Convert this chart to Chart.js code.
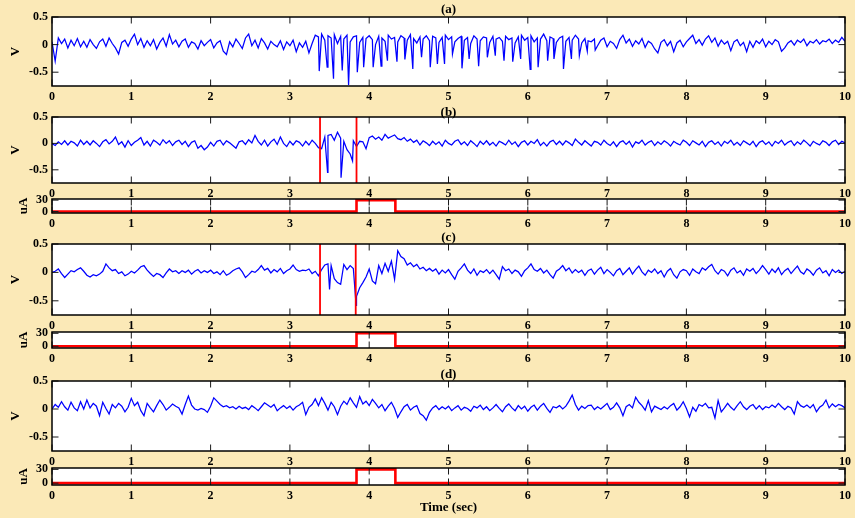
<!DOCTYPE html>
<html>
<head>
<meta charset="utf-8">
<title>Evoked activity</title>
<script src="https://cdn.jsdelivr.net/npm/chart.js@4.4.1/dist/chart.umd.min.js"></script>
<style>
  html, body { margin: 0; padding: 0; background: #fbe9b7; }
  #wrap { position: relative; width: 855px; height: 518px; overflow: hidden; background: #fbe9b7; }
  #wrap canvas { position: absolute; left: 0; }
</style>
</head>
<body>
<div id="wrap"></div>
<script>
// ---- recorded data -------------------------------------------------------
const SAMPLE_STEP = 0.04; // seconds between stored samples

const timeTicks = [0, 1, 2, 3, 4, 5, 6, 7, 8, 9, 10];
const timeTickLabels = ['0', '1', '2', '3', '4', '5', '6', '7', '8', '9', '10'];
const voltTicks = [-0.5, 0, 0.5];
const voltTickLabels = ['-0.5', '0', '0.5'];
const currentTicks = [0, 30];
const currentTickLabels = ['0', '30'];

// (a) spontaneous trace, sampled every SAMPLE_STEP
const traceA = [
  .05,-.30,.12,.02,.10,-.06,.08,-.02,.11,-.04,
  .06,-.05,.09,.00,-.07,.05,.10,-.03,.12,.02,
  -.06,-.17,.04,.08,-.03,.10,.19,.00,.11,-.05,
  .07,-.02,.09,-.08,.04,.12,-.03,.18,.01,.08,
  -.04,.06,.10,-.05,.05,.02,-.08,.07,-.02,.04,
  .09,-.06,.03,.07,-.12,-.18,.05,-.04,.10,.02,
  -.07,.12,.19,-.02,.08,-.06,.11,.03,-.08,.06,
  .00,-.04,.07,-.09,.05,-.02,.08,-.13,.03,-.05,
  .06,-.15,.02,.17,.14,.19,.08,.16,.12,.18,
  .02,.15,.10,.17,.05,.14,.16,.04,.13,.11,
  .16,.09,.00,.15,.12,.06,.17,.10,.13,.05,
  .16,.12,.08,.18,.11,.03,.14,.10,.16,.07,
  .15,.12,.04,.13,.17,.09,.14,.05,.11,.15,
  .08,.13,.02,.16,.10,.07,.14,.12,.04,.15,
  .10,.13,.06,.15,.09,.12,.03,.14,.17,.08,
  .13,.16,.05,.12,.10,.19,.07,.14,.11,.04,
  .12,.15,.06,.13,.08,.17,.10,.03,.11,.07,
  .05,.10,-.02,.08,.12,-.04,.06,.02,-.07,.09,
  .17,.03,.10,-.03,.07,.01,.11,-.05,.06,.02,
  -.08,-.15,.04,.09,-.02,.06,-.13,.03,.08,-.04,
  .05,.11,.17,.02,.09,-.01,.10,.16,.04,.12,
  -.03,.08,.01,.06,-.11,.05,.09,-.02,.04,-.13,
  .06,-.05,.07,.02,.10,-.04,.06,.00,.09,.05,
  -.12,-.06,.03,.07,-.01,.08,.04,.10,-.02,.06,
  .03,.09,.01,.07,.05,.10,.02,.08,.04,.13,
  .06
];
// (a) sharp negative spikes of the paroxysmal burst
const spikeTimesA = [3.37,3.47,3.55,3.66,3.74,3.85,3.93,4.05,4.15,4.23,4.35,4.45,4.55,4.66,4.77,4.86,4.95,5.05,
                     5.17,5.26,5.38,5.49,5.59,5.70,5.81,5.91,6.03,6.13,6.25,6.33,6.45,6.55,6.65,6.75,6.85];
const spikeValuesA = [-.48,-.41,-.62,-.47,-.73,-.50,-.41,-.41,-.39,-.29,-.31,-.27,-.44,-.23,-.41,-.35,-.35,-.17,
                      -.43,-.26,-.39,-.23,-.20,-.29,-.31,-.26,-.45,-.41,-.29,-.26,-.44,-.26,-.20,-.12,-.10];

// (b) trace with detected onset, stimulation cuts the burst short
const traceB = [
  .00,-.04,.03,-.02,.05,-.03,.04,.01,-.05,.06,
  -.02,.04,-.03,.05,.00,-.06,.03,.07,-.01,.04,
  .12,-.02,.03,-.07,.05,-.04,.02,.06,.11,-.03,
  .04,-.05,.06,.02,-.03,.07,.00,.05,-.04,.03,
  .06,-.02,.04,-.06,.02,.05,-.09,-.04,-.12,-.07,
  .02,-.05,.04,.06,-.03,.05,.01,-.04,-.09,.03,
  .05,-.02,.07,.01,.15,.04,-.03,.06,-.05,.03,
  .08,-.02,.12,.00,-.06,.04,-.03,.05,.02,-.05,
  .04,-.03,.06,.00,-.08,-.10,.12,.15,.17,.06,
  .21,.10,.04,-.12,-.20,.05,-.06,.04,.03,-.10,
  .11,.14,.08,.12,.06,.17,.10,.13,.16,.09,
  .07,.11,.04,.08,.02,.06,-.03,.05,.01,-.04,
  .04,-.02,.03,-.05,.06,.00,-.03,.04,.07,-.02,
  .03,-.04,.05,.00,-.06,.04,-.02,.05,-.03,.02,
  -.05,.04,.01,-.03,.06,-.02,.03,-.06,.02,.05,
  -.03,.04,.00,.07,-.04,.02,-.05,.03,.06,-.02,
  .04,-.03,.05,.01,-.04,.08,.02,-.03,.05,.00,
  -.05,.04,.02,-.03,.06,.00,-.04,.03,-.06,.02,
  .05,-.02,.04,-.07,.03,.00,.06,-.03,.02,.05,
  -.04,.03,-.02,.05,.01,-.05,.04,.00,-.03,.06,
  .02,-.04,.05,.01,-.03,.04,-.06,.02,.05,-.02,
  .03,-.05,.04,.00,.06,-.03,.02,-.04,.05,.01,
  -.03,.04,-.06,.02,.05,-.02,.03,-.05,.04,.00,
  .06,-.03,.02,.05,-.04,.03,-.02,.06,.01,-.05,
  .04,.00,-.03,.05,.02,-.04,.03,.06,-.02,.04,
  .01
];
const spikeTimesB = [3.475, 3.645, 3.79];
const spikeValuesB = [-.55, -.65, -.33];
const markTimesB = [3.38, 3.84];

// (c) trace with detected onset and rebound after stimulation
const traceC = [
  .00,.02,.06,-.02,-.09,-.03,.03,.01,.05,.08,
  .02,-.05,-.08,-.04,-.06,-.03,.02,.15,.08,.03,
  .05,-.02,.01,-.06,-.03,.02,-.01,.04,.10,.12,
  .04,-.02,-.07,-.02,-.04,-.09,-.01,.06,.01,.03,
  -.02,.03,.00,.04,-.03,.02,.05,-.01,.03,.00,
  .04,-.02,.01,-.04,.03,-.05,-.02,.03,.06,.08,
  .01,-.09,-.04,.02,.00,.05,.12,.04,.07,-.01,
  .05,.01,.07,-.02,.03,.06,.13,.05,.02,.04,
  .03,.06,-.02,.02,-.06,.05,.13,.15,.12,-.11,
  -.18,-.21,.14,.05,.12,.07,-.42,-.27,-.18,-.08,
  .06,-.15,-.20,.12,-.02,.16,.02,.20,-.12,.38,
  .28,.24,.13,.17,.10,.14,.06,.09,.03,.07,
  .02,.06,-.03,.04,-.01,.05,-.04,-.12,.02,.08,
  .15,.04,-.02,.06,-.05,.03,.00,.05,-.02,.04,
  -.04,-.12,.10,.03,.06,-.02,.04,.01,-.07,.03,
  .08,.15,.05,.02,.07,-.01,.04,-.04,-.10,.02,
  .06,.12,.03,.08,-.01,.05,.00,.04,-.05,.03,
  .06,-.03,.04,.09,-.02,.05,.00,-.06,.03,.07,
  -.04,.02,.08,-.03,.05,.11,.01,-.05,.04,.00,
  .06,-.02,.03,-.08,.02,.07,-.04,-.10,.01,.05,
  .03,-.05,.06,.01,-.02,.08,.04,.10,.14,.03,
  -.03,.05,.02,-.06,.04,.08,-.01,.03,-.05,.06,
  .02,.07,-.02,.04,.12,.05,-.03,.06,.00,.08,
  -.04,.03,.07,-.02,.05,.11,.01,-.03,.06,.02,
  -.05,.04,.08,-.01,.03,-.06,.05,.00,.04,-.02,
  .02
];
const spikeTimesC = [3.50, 3.835];
const spikeValuesC = [-.30, -.58];
const markTimesC = [3.38, 3.83];

// (d) control trace with stimulation but no burst
const traceD = [
  .00,.08,.03,.13,.04,-.02,.12,.02,-.03,.13,
  .00,.16,.02,.10,.05,-.12,.12,.01,-.09,.08,
  .02,.10,.05,-.05,.03,.19,.06,.12,-.03,-.12,
  .10,.02,-.05,.06,.16,.08,-.02,.03,.09,.05,
  .02,-.09,.08,.23,.07,.00,-.02,.01,-.01,-.06,
  .05,.20,.14,.08,.04,.06,.02,.04,.00,.05,
  .01,.03,-.01,.06,.02,-.03,.04,.11,.07,.03,
  .08,-.03,.02,.06,.01,.05,-.02,.04,.07,.12,
  -.10,.03,.08,.18,.06,.20,.10,-.02,.12,.04,
  -.10,.05,.14,.08,.20,.11,.03,.22,.09,.14,
  .06,.17,.10,.02,.08,-.03,.05,.12,.01,-.15,
  -.05,.04,.08,-.02,.03,.06,-.08,-.12,-.20,-.06,
  .02,.06,-.01,.04,.00,.05,-.03,.02,.06,-.02,
  .03,.01,-.04,.05,.02,.07,-.01,.04,-.03,.02,
  .08,.01,-.05,.04,.09,.02,-.03,.06,.00,.05,
  -.04,.03,.07,-.02,.05,.10,.01,-.06,.04,.02,
  .06,.00,.05,.14,.25,.08,-.02,.05,.01,.06,
  .07,-.01,.04,.00,.05,.10,-.01,.03,.11,.02,
  -.12,.04,.08,.02,.21,.12,.06,-.02,.15,-.05,
  .05,.02,-.01,.04,.00,.06,.10,-.02,.04,.13,
  .01,-.14,.03,-.04,.08,.05,.10,.02,.03,-.16,
  .15,-.05,.02,.10,.03,-.02,.06,.13,.04,-.01,
  .05,.08,.00,.06,-.01,.04,.02,.07,.03,.10,
  .04,-.01,.05,.02,-.09,.13,.06,.03,.07,.02,
  .08,-.05,.03,.07,.16,.02,.09,.04,.08,.06,
  .02
];

// stimulation current pulse (uA)
const stimTimes = [0, 3.84, 3.84, 4.33, 4.33, 10];
const stimCurrent = [0, 0, 30, 30, 0, 0];

// ---- drawing -------------------------------------------------------------
const FONT = '"Liberation Serif", "Times New Roman", Times, serif';
const VOLT_MIN = -0.75, VOLT_MAX = 0.5;
const AMP_MIN = -4, AMP_MAX = 33;
const TICK_LEN = 6.5;

function toSeries(samples, extraTimes, extraValues) {
  const pts = samples.map((v, i) => ({ x: i * SAMPLE_STEP, y: v }));
  (extraTimes || []).forEach((t, k) => pts.push({ x: t, y: extraValues[k] }));
  pts.sort((a, b) => a.x - b.x);
  return pts;
}

// white plot box, inward ticks on all four sides, frame and panel label
const panelDecor = {
  id: 'panelDecor',
  beforeDatasetsDraw(chart) {
    const { ctx, chartArea: a } = chart;
    ctx.save();
    ctx.fillStyle = '#ffffff';
    ctx.fillRect(a.left, a.top, a.right - a.left, a.bottom - a.top);
    ctx.restore();
  },
  afterDatasetsDraw(chart, args, opts) {
    const { ctx, chartArea: a, scales: { x, y } } = chart;
    ctx.save();
    ctx.strokeStyle = '#1a1a1a';
    ctx.lineWidth = 1;
    ctx.beginPath();
    x.ticks.forEach(t => {
      const px = x.getPixelForValue(t.value);
      ctx.moveTo(px, a.bottom); ctx.lineTo(px, a.bottom - TICK_LEN);
      ctx.moveTo(px, a.top); ctx.lineTo(px, a.top + TICK_LEN);
    });
    y.ticks.forEach(t => {
      const py = y.getPixelForValue(t.value);
      ctx.moveTo(a.left, py); ctx.lineTo(a.left + TICK_LEN, py);
      ctx.moveTo(a.right, py); ctx.lineTo(a.right - TICK_LEN, py);
    });
    ctx.stroke();
    ctx.strokeStyle = '#000';
    ctx.lineWidth = 1.5;
    ctx.strokeRect(a.left, a.top, a.right - a.left, a.bottom - a.top);
    if (opts.title) {
      ctx.fillStyle = '#000';
      ctx.font = 'bold 13px ' + FONT;
      ctx.textAlign = 'center';
      ctx.textBaseline = 'middle';
      ctx.fillText(opts.title, (a.left + a.right) / 2, a.top - opts.titleGap);
    }
    ctx.restore();
  }
};

function timeAxis(height, withTitle) {
  return {
    type: 'linear', min: 0, max: 10,
    afterBuildTicks: s => { s.ticks = timeTicks.map(v => ({ value: v })); },
    afterFit: s => { s.height = height; },
    ticks: {
      autoSkip: false, maxRotation: 0, minRotation: 0, padding: 4, color: '#000',
      font: { family: FONT, size: 12, weight: 'bold' },
      callback: (v, i) => timeTickLabels[i]
    },
    grid: { display: false, drawTicks: false },
    border: { display: false },
    title: {
      display: withTitle, text: 'Time (sec)', color: '#000',
      font: { family: FONT, size: 13, weight: 'bold' },
      padding: { top: 0, bottom: 3 }
    }
  };
}

function valueAxis(min, max, ticks, labels, title, titlePad) {
  return {
    type: 'linear', min, max,
    afterBuildTicks: s => { s.ticks = ticks.map(v => ({ value: v })); },
    afterFit: s => { s.width = 52; },
    ticks: {
      autoSkip: false, padding: 4, color: '#000',
      font: { family: FONT, size: 12, weight: 'bold' },
      callback: (v, i) => labels[i]
    },
    grid: { display: false, drawTicks: false },
    border: { display: false },
    title: {
      display: true, text: title, color: '#000',
      font: { family: FONT, size: 13, weight: 'bold' },
      padding: { top: titlePad, bottom: 0 }
    }
  };
}

const wrap = document.getElementById('wrap');

function makePanel(p) {
  const canvasTop = p.top - 17;
  const xAxisH = p.last ? 518 - p.bottom : 22;
  const height = p.bottom + xAxisH - canvasTop;
  const canvas = document.createElement('canvas');
  canvas.width = 855; canvas.height = height;
  canvas.style.top = canvasTop + 'px';
  canvas.style.width = '855px'; canvas.style.height = height + 'px';
  wrap.appendChild(canvas);

  new Chart(canvas, {
    type: 'line',
    data: { datasets: p.datasets },
    options: {
      responsive: false, animation: false, devicePixelRatio: 1,
      layout: { padding: { top: 17, right: 6, left: 0, bottom: 0 } },
      elements: { point: { radius: 0 }, line: { tension: 0 } },
      plugins: {
        legend: { display: false }, tooltip: { enabled: false },
        panelDecor: { title: p.title, titleGap: p.titleGap }
      },
      scales: {
        x: timeAxis(xAxisH, !!p.last),
        y: p.current
          ? valueAxis(AMP_MIN, AMP_MAX, currentTicks, currentTickLabels, 'uA', 16)
          : valueAxis(VOLT_MIN, VOLT_MAX, voltTicks, voltTickLabels, 'V', 8)
      }
    },
    plugins: [panelDecor]
  });
}

function traceSet(samples, extraTimes, extraValues) {
  return { data: toSeries(samples, extraTimes, extraValues), borderColor: '#0000ff', borderWidth: 1.25, pointRadius: 0, fill: false };
}
function markSets(times) {
  return times.map(t => ({
    data: [{ x: t, y: VOLT_MIN }, { x: t, y: VOLT_MAX }],
    borderColor: '#ff0000', borderWidth: 1.8, pointRadius: 0, fill: false
  }));
}
function stimSet() {
  return {
    data: stimTimes.map((t, i) => ({ x: t, y: stimCurrent[i] })),
    borderColor: '#ff0000', borderWidth: 2.6, pointRadius: 0, fill: false
  };
}

makePanel({ top: 17, bottom: 86, title: '(a)', titleGap: 7,
  datasets: [traceSet(traceA, spikeTimesA, spikeValuesA)] });
makePanel({ top: 117, bottom: 183, title: '(b)', titleGap: 4.5,
  datasets: [...markSets(markTimesB), traceSet(traceB, spikeTimesB, spikeValuesB)] });
makePanel({ top: 199, bottom: 213, current: true, datasets: [stimSet()] });
makePanel({ top: 244, bottom: 315, title: '(c)', titleGap: 6,
  datasets: [...markSets(markTimesC), traceSet(traceC, spikeTimesC, spikeValuesC)] });
makePanel({ top: 332, bottom: 348, current: true, datasets: [stimSet()] });
makePanel({ top: 381, bottom: 451, title: '(d)', titleGap: 6,
  datasets: [traceSet(traceD)] });
makePanel({ top: 468, bottom: 485, current: true, last: true, datasets: [stimSet()] });
</script>
</body>
</html>
